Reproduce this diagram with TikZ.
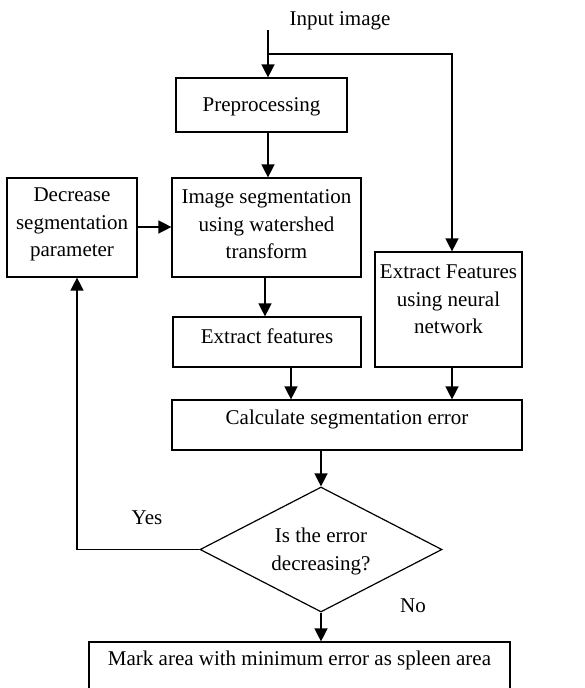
\documentclass[tikz,border=0pt]{standalone}
\usepackage{fontspec}
\setmainfont{Liberation Serif}
\usetikzlibrary{arrows.meta,shapes.geometric}
\begin{document}
\begin{tikzpicture}[x=1pt,y=-1pt,
  line width=1.4pt,
  box/.style={draw, rectangle, inner sep=0pt, line width=1.2pt},
  dec/.style={draw, diamond, inner sep=0pt, line width=1.2pt},
  txt/.style={inner sep=0pt, align=center, yshift=-2.5pt, font=\fontsize{21}{27.5}\selectfont},
  arr/.style={-{Triangle[length=13pt,width=13pt]}}]
\clip (0,0) rectangle (585,688);
\fill[white] (0,0) rectangle (585,688);

% boxes
\node[box, minimum width=171, minimum height=54]  (pre)  at (261.5,105) {};
\node[box, minimum width=189, minimum height=99]  (seg)  at (266.5,227.5) {};
\node[box, minimum width=130, minimum height=99]  (dcr)  at (72,227.5) {};
\node[box, minimum width=147, minimum height=115] (nn)   at (448.5,309.5) {};
\node[box, minimum width=188, minimum height=50]  (ext)  at (267,342) {};
\node[box, minimum width=350, minimum height=50]  (calc) at (347,425) {};
\node[dec, minimum width=242, minimum height=125] (ask)  at (321,549.5) {};
\node[box, minimum width=421, minimum height=80]  (fin)  at (299.5,682) {};

% texts
\node[txt] (tin)   at (340,18)  {Input image};
\node[txt] (tpre)  at (261.5,104) {Preprocessing};
\node[txt] (tseg)  at (266.5,222) {Image segmentation\\using watershed\\transform};
\node[txt] (tdcr)  at (72,222) {Decrease\\segmentation\\parameter};
\node[txt] (tnn)   at (448.5,297) {Extract Features\\using neural\\network};
\node[txt] (text)  at (267,334) {Extract features};
\node[txt] (tcalc) at (347,417) {Calculate segmentation error};
\node[txt] (task)  at (321,549) {Is the error\\decreasing?};
\node[txt] (tyes)  at (147,515) {Yes};
\node[txt] (tno)   at (413,603) {No};
\node[txt] (tfin)  at (299.5,658) {Mark area with minimum error as spleen area};

% connectors
\coordinate (inp) at (268,30);
\coordinate (br)  at (268,54);
\coordinate (nnx) at (452,54);
\coordinate (yl)  at (77,549.5);

\draw[arr] (inp) -- (pre.north -| inp);
\draw[arr] (br) -- (nnx) -- (nn.north -| nnx);
\draw[arr] (pre.south -| inp) -- (seg.north -| inp);
\draw[arr] (dcr.east |- 0,227) -- (seg.west |- 0,227);
\draw[arr] ([xshift=-1.5pt]seg.south) -- ([xshift=-2pt]ext.north);
\draw[arr] (ext.south -| 291,0) -- (calc.north -| 291,0);
\draw[arr] (nn.south -| nnx) -- (calc.north -| nnx);
\draw[arr] (calc.south -| ask) -- (ask.north);
\draw[arr] (ask.west) -- (yl) -- (dcr.south -| yl);
\draw[arr] (ask.south) -- (fin.north -| ask);
\end{tikzpicture}
\end{document}
